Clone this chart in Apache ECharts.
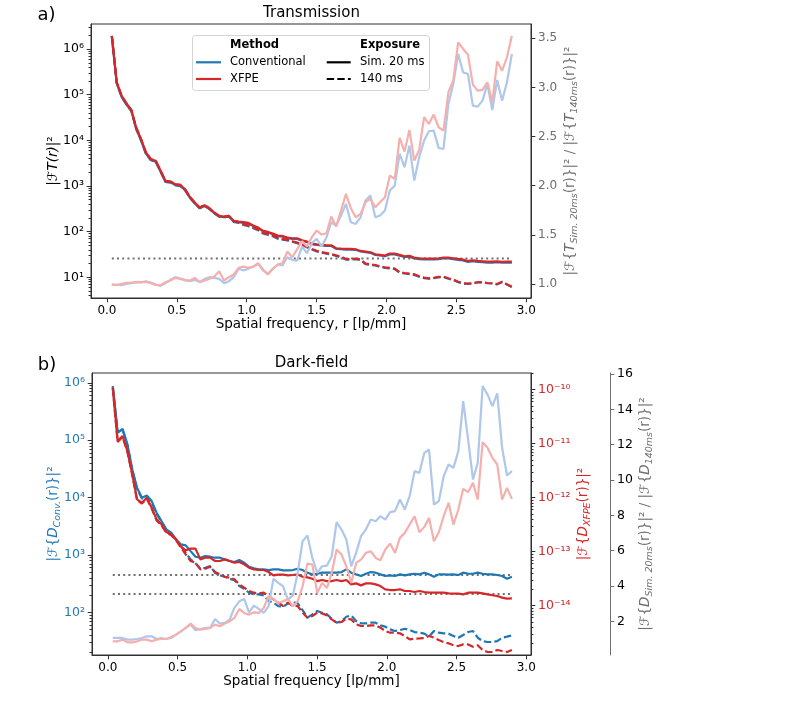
<!DOCTYPE html>
<html><head><meta charset="utf-8">
<script src="https://cdn.jsdelivr.net/npm/echarts@6/dist/echarts.min.js"></script>
<style>html,body{margin:0;padding:0;background:#fff}#c{width:803px;height:726px}</style>
</head><body><div id="c"></div>
<script>
// ---------------- data ----------------
const freq = [0.035,0.070,0.105,0.140,0.175,0.209,0.244,0.279,0.314,0.349,
 0.384,0.419,0.454,0.489,0.524,0.558,0.593,0.628,0.663,0.698,
 0.733,0.768,0.803,0.838,0.873,0.907,0.942,0.977,1.012,1.047,
 1.082,1.117,1.152,1.187,1.222,1.256,1.291,1.326,1.361,1.396,
 1.431,1.466,1.501,1.536,1.571,1.605,1.640,1.675,1.710,1.745,
 1.780,1.815,1.850,1.885,1.920,1.954,1.989,2.024,2.059,2.094,
 2.129,2.164,2.199,2.234,2.269,2.303,2.338,2.373,2.408,2.443,
 2.478,2.513,2.548,2.583,2.618,2.652,2.687,2.722,2.757,2.792,
 2.827,2.862,2.897];

// a) Transmission
const topConvSim = [1.90e6,1.80e5,9.0e4,6.1e4,4.4e4,1.8e4,1.0e4,5150,3700,3400,
 2050,1230,1200,1050,1010,820,555,420,325,365,
 315,253,214,207,214,166,161,156,150,132,
 119,101,95.5,88,79.5,78,72,69.5,69.5,63,
 59,53,51.5,50,49,48.5,42,41.2,40.5,40.5,
 40,36.8,35.5,34.3,31,30,29,31.8,31.8,29.8,
 27.8,28.3,26,25,24.5,24.5,24.6,25,25.8,25.8,
 25,24.1,23.3,21.8,22.5,21.8,21.4,21,21,21.4,
 20.8,21,21];
const topXfpeSim = [1.96e6,1.86e5,9.46e4,6.43e4,4.59e4,1.91e4,1.06e4,5420,3870,3560,
 2150,1290,1250,1090,1060,851,578,434,337,379,
 326,262,221,214,221,172,166,161,155,136,
 123,104,98.6,90.6,81.8,80.5,74.1,71.6,71.6,64.7,
 60.5,54.7,52.8,51.2,50.2,50.2,43.3,42.5,41.8,41.8,
 41.1,37.8,36.6,35.3,31.9,30.9,29.9,33.0,33.0,30.9,
 28.8,29.4,27.0,26.1,25.6,25.6,25.6,26.1,27.0,27.0,
 26.1,25.2,24.4,22.8,23.6,22.8,22.4,22.0,22.0,22.4,
 21.7,22.0,22.0];
const topConv140 = [1.90e6,1.80e5,9.0e4,6.1e4,4.4e4,1.8e4,1.0e4,5150,3700,3400,
 2050,1230,1200,1050,1010,820,555,420,325,365,
 315,253,214,207,213,164,156,140,131,119,
 107,91,85,79,70,67,64,60,56,51,
 45.5,40.5,37,34.5,33,31.5,29.3,27.4,24.4,24.3,
 24.9,23.8,19.5,18.8,18.1,16.9,16.1,15.6,15.1,12.6,
 12.1,11.7,11.3,10.3,9.6,9.3,9.5,10.0,10.1,9.3,
 8.7,7.8,7.3,7.2,7.3,7.7,7.7,7.4,7.3,7.0,
 7.8,6.9,6.1];
const topXfpe140 = [1.96e6,1.86e5,9.46e4,6.43e4,4.59e4,1.91e4,1.06e4,5420,3870,3560,
 2150,1290,1250,1090,1060,851,578,434,337,379,
 326,262,221,214,221,170,162,145,136,123,
 111,93.8,87.7,81.8,72.4,69.2,66.1,61.7,57.5,52.5,
 46.8,41.7,38.0,35.5,33.9,32.4,30.2,28.2,25.1,25.1,
 25.7,24.5,20.0,19.3,18.6,17.4,16.6,16.0,15.5,12.9,
 12.4,12.0,11.6,10.5,9.8,9.5,9.7,10.2,10.3,9.5,
 8.9,8.0,7.4,7.3,7.4,7.8,7.8,7.5,7.4,7.1,
 8.0,7.0,6.2];
const topRatioConv = [0.994,0.994,0.987,1.001,1.008,1.015,1.015,1.028,1.015,0.994,
 0.981,1.008,1.042,1.069,1.055,1.035,1.028,1.042,1.021,1.049,
 1.069,1.062,1.052,1.008,1.028,1.069,1.154,1.137,1.154,1.177,
 1.204,1.137,1.103,1.154,1.198,1.188,1.272,1.245,1.238,1.381,
 1.313,1.415,1.459,1.381,1.476,1.628,1.594,1.696,1.815,1.628,
 1.611,1.679,1.849,1.900,1.679,1.696,1.747,1.951,2.001,2.324,
 2.188,2.408,2.052,2.290,2.459,2.554,2.561,2.385,2.374,2.832,
 3.036,3.341,3.154,3.137,2.815,2.805,2.866,3.036,2.771,3.076,
 2.866,3.053,3.341];
const topRatioXfpe = [0.994,0.987,1.001,1.011,1.015,1.021,1.018,1.021,1.008,0.991,
 0.987,1.018,1.035,1.062,1.052,1.042,1.035,1.062,1.018,1.035,
 1.052,1.076,1.130,1.035,1.069,1.096,1.164,1.177,1.164,1.177,
 1.211,1.147,1.096,1.154,1.198,1.211,1.330,1.272,1.354,1.435,
 1.381,1.476,1.544,1.503,1.516,1.686,1.584,1.747,1.917,1.771,
 1.679,1.713,1.832,1.866,1.781,1.832,1.883,2.103,2.069,2.486,
 2.347,2.568,2.256,2.364,2.697,2.629,2.724,2.595,2.561,2.951,
 3.070,3.459,3.392,3.334,3.029,2.968,2.975,3.053,2.849,3.266,
 3.171,3.307,3.527];
const topNoise = 25.7;

// b) Dark-field
const botConvSim = [8.79e5,1.35e5,1.58e5,8.45e4,3.10e4,1.49e4,9960,1.09e4,8710,5460,
 3910,2800,2450,1870,1530,1470,1170,934,897,959,
 934,897,897,839,785,755,817,735,625,585,
 562,562,547,562,562,540,540,547,577,547,
 492,460,472,492,492,492,492,505,562,492,
 460,431,472,505,492,460,431,442,431,460,
 442,460,472,460,492,460,419,460,460,454,
 460,448,492,472,472,492,472,460,460,448,
 431,386,419];
const botXfpeSim = [1.09e-10,1.12e-11,1.39e-11,7.31e-12,2.70e-12,9.31e-13,8.09e-13,1.00e-12,6.53e-13,3.97e-13,
 3.21e-13,2.31e-13,2.09e-13,1.69e-13,1.24e-13,1.06e-13,1.14e-13,1.14e-13,7.21e-14,7.74e-14,
 7.74e-14,6.72e-14,6.72e-14,7.21e-14,6.72e-14,6.25e-14,6.44e-14,5.83e-14,5.06e-14,4.71e-14,
 4.58e-14,4.58e-14,4.21e-14,3.65e-14,3.75e-14,3.75e-14,3.65e-14,3.70e-14,3.80e-14,3.44e-14,
 3.35e-14,3.16e-14,2.86e-14,2.99e-14,2.86e-14,2.86e-14,2.99e-14,2.86e-14,2.99e-14,2.48e-14,
 2.59e-14,2.38e-14,2.59e-14,2.59e-14,2.48e-14,2.31e-14,2.01e-14,1.95e-14,1.95e-14,2.01e-14,
 1.87e-14,1.87e-14,1.79e-14,1.87e-14,1.79e-14,1.74e-14,1.74e-14,1.74e-14,1.74e-14,1.69e-14,
 1.67e-14,1.67e-14,1.62e-14,1.74e-14,1.74e-14,1.74e-14,1.69e-14,1.62e-14,1.56e-14,1.51e-14,
 1.41e-14,1.35e-14,1.37e-14];
const botConv140 = [8.6e5,1.38e5,1.52e5,8.2e4,2.95e4,1.42e4,9600,1.05e4,8300,5200,
 3750,2700,2380,1820,1430,1100,839,715,577,601,
 643,492,442,419,386,366,288,259,220,206,
 206,198,158,148,129,126,142,152,144,110,
 80.9,92.5,106,98.9,92.5,77.6,66.2,70.8,84.1,88.7,
 70.8,64.4,64.4,66.2,66.2,59.4,56.4,50.6,47.4,49.3,
 52.0,49.3,45.5,44.3,42.6,37.8,47.4,44.3,43.2,42.6,
 38.8,36.2,40.4,45.5,47.4,36.2,31.7,30.5,30.5,31.7,
 36.2,37.8,39.8];
const botXfpe140 = [1.05e-10,1.08e-11,1.33e-11,7.0e-12,2.6e-12,9.0e-13,7.8e-13,9.6e-13,6.3e-13,3.8e-13,
 3.1e-13,2.25e-13,2.02e-13,1.63e-13,1.19e-13,8.93e-14,6.72e-14,6.25e-14,4.71e-14,4.84e-14,
 5.27e-14,4.21e-14,3.80e-14,3.44e-14,3.30e-14,3.08e-14,2.48e-14,2.16e-14,1.87e-14,1.74e-14,
 1.69e-14,1.74e-14,1.51e-14,1.31e-14,1.14e-14,9.87e-15,1.14e-14,9.87e-15,9.87e-15,7.43e-15,
 6.00e-15,6.44e-15,7.43e-15,7.21e-15,6.62e-15,5.58e-15,4.84e-15,4.99e-15,5.74e-15,5.58e-15,
 4.51e-15,4.21e-15,4.21e-15,4.33e-15,4.33e-15,3.92e-15,3.40e-15,3.16e-15,3.16e-15,3.08e-15,
 2.74e-15,2.38e-15,2.45e-15,2.48e-15,2.52e-15,2.74e-15,2.56e-15,2.31e-15,2.12e-15,2.01e-15,
 1.85e-15,1.79e-15,1.92e-15,1.92e-15,1.74e-15,1.85e-15,1.51e-15,1.39e-15,1.39e-15,1.51e-15,
 1.45e-15,1.39e-15,1.51e-15];
const botRatioConv = [1.060,1.060,1.060,0.965,0.965,1.003,1.060,1.154,1.154,1.003,
 1.060,1.003,1.060,1.249,1.438,1.627,1.815,1.495,1.570,1.627,
 1.627,2.136,1.872,1.910,2.099,2.759,3.137,3.269,2.514,2.892,
 2.703,2.476,2.854,4.403,4.176,3.987,3.232,3.458,4.742,6.537,
 6.858,5.593,4.742,5.120,5.158,5.687,7.613,7.198,6.631,5.120,
 5.876,6.820,7.198,7.764,7.670,7.953,7.764,8.180,8.237,8.897,
 8.331,9.086,10.503,10.408,11.541,11.730,8.614,8.803,10.219,10.880,
 10.692,11.636,14.469,12.297,10.031,10.975,15.319,14.846,14.185,14.903,
 11.825,10.257,10.503];
const botRatioXfpe = [0.871,0.871,0.965,0.814,0.814,0.871,0.965,0.965,0.871,0.965,
 1.003,1.003,1.116,1.249,1.438,1.627,1.872,1.627,1.532,1.570,
 1.627,1.815,1.721,1.872,2.004,2.193,2.703,2.476,2.382,2.514,
 2.476,2.759,3.421,3.269,3.043,3.137,3.269,2.854,3.137,3.987,
 5.271,5.215,3.609,4.176,3.893,4.742,6.065,5.781,5.120,4.176,
 5.309,5.498,5.876,5.970,5.593,5.460,6.065,6.404,5.876,6.726,
 7.009,7.481,7.953,7.047,7.349,7.859,6.537,7.047,7.953,8.709,
 7.481,8.331,9.502,9.313,9.842,8.897,12.146,11.825,11.258,10.880,
 8.897,9.558,8.935];
const botNoiseConv = 449;
const botNoiseXfpe = 1.65e-14;

// tick values
const xTicks = [0, 0.5, 1.0, 1.5, 2.0, 2.5, 3.0];
const topLogTicks = [1e1, 1e2, 1e3, 1e4, 1e5, 1e6];
const topRatioTicks = [1.0, 1.5, 2.0, 2.5, 3.0, 3.5];
const botConvTicks = [1e2, 1e3, 1e4, 1e5, 1e6];
const botXfpeTicks = [1e-14, 1e-13, 1e-12, 1e-11, 1e-10];
const botRatioTicks = [2, 4, 6, 8, 10, 12, 14, 16];

// ---------------- helpers ----------------
const FONT = 'DejaVu Sans';
const AX = '#303030';
const GRAY = '#6e6e6e';
const C_BLUE = '#1f77b4', C_RED = '#d62728', C_LBLUE = '#aec7ea', C_LRED = '#f5b0ad';
const DASH = [7.4, 3.2], DOT = [2, 3.2];
const L10 = v => Math.log10(v);
const SUP = {'0':'⁰','1':'¹','2':'²','3':'³','4':'⁴','5':'⁵','6':'⁶','7':'⁷','8':'⁸','9':'⁹','-':'⁻'};
const pow10 = v => '10' + String(Math.round(v)).split('').map(c => SUP[c]).join('');
function minor(lo, hi) {
  const out = [];
  for (let n = Math.floor(lo); n <= Math.ceil(hi); n++)
    for (let m = 2; m <= 9; m++) { const v = n + Math.log10(m); if (v >= lo && v <= hi) out.push(v); }
  return out;
}
function rich(color) {
  return {
    i: {fontFamily: FONT, fontSize: 13.5, fontStyle: 'italic', color, lineHeight: 20},
    s: {fontFamily: FONT, fontSize: 9.5, fontStyle: 'italic', color, lineHeight: 11, verticalAlign: 'bottom'}
  };
}
function nameStyle(color) {
  return {fontFamily: FONT, fontSize: 13.5, color, lineHeight: 20, rich: rich(color)};
}
function xAx(gi, name) {
  return {type: 'value', gridIndex: gi, min: -0.114, max: 3.034,
    name, nameLocation: 'middle', nameGap: 19, nameMoveOverlap: false,
    nameTextStyle: {fontFamily: FONT, fontSize: 13.5, color: '#000'},
    axisLine: {show: true, onZero: false, lineStyle: {color: AX, width: 1}},
    axisTick: {show: true, length: 4.3, customValues: xTicks, lineStyle: {color: AX}},
    axisLabel: {customValues: xTicks, formatter: v => v.toFixed(1), fontFamily: FONT, fontSize: 12, color: '#000', margin: 7},
    splitLine: {show: false}};
}
function yAx(o) {
  const base = {type: 'value', splitLine: {show: false}, nameLocation: 'middle', nameRotate: 90, nameMoveOverlap: false,
    axisLine: {show: true, onZero: false, lineStyle: {color: o.lineColor || AX, width: 1}}};
  delete o.lineColor;
  return Object.assign(base, o);
}
function majorTick(vals, color) { return {show: true, length: 4.3, customValues: vals, lineStyle: {color: color || AX}}; }
function minorAx(gi, pos, min, max) {
  return {type: 'value', gridIndex: gi, position: pos, min, max,
    axisLine: {show: false, onZero: false}, axisLabel: {show: false}, splitLine: {show: false},
    axisTick: {show: true, length: 2.5, customValues: minor(min, max), lineStyle: {color: AX}}};
}
const logData = vals => freq.map((f, i) => [f, L10(vals[i])]);
const linData = vals => freq.map((f, i) => [f, vals[i]]);
const flatLog = v => [[freq[0], L10(v)], [freq[freq.length - 1], L10(v)]];
function ser(name, xi, yi, data, color, type, z) {
  return {name, type: 'line', xAxisIndex: xi, yAxisIndex: yi, data, symbol: 'none', showSymbol: false,
    animation: false, silent: true, z, clip: true,
    lineStyle: {color, width: type === DOT ? 2 : 2.2, type: type || 'solid', cap: 'butt'}, itemStyle: {color}};
}

// axis extents (log10 space for log axes)
const T_LOG = [0.546, 6.55], T_RAT = [0.857, 3.646];
const B_CONV = [1.258, 6.171], B_XFPE = [-14.913, -9.691], B_RAT = [0.096, 16.06];

const option = {
  backgroundColor: '#fff',
  animation: false,
  textStyle: {fontFamily: FONT},
  grid: [
    {left: 91, top: 24, width: 440, height: 274, show: true, borderColor: AX, borderWidth: 1, backgroundColor: 'transparent'},
    {left: 92, top: 373, width: 439, height: 282, show: true, borderColor: AX, borderWidth: 1, backgroundColor: 'transparent'}
  ],
  xAxis: [xAx(0, 'Spatial frequency, r [lp/mm]'), xAx(1, 'Spatial frequency [lp/mm]')],
  yAxis: [
    yAx({gridIndex: 0, position: 'left', min: T_LOG[0], max: T_LOG[1],
      name: '|ℱ{i|T(r)}|²', nameGap: 28, nameTextStyle: nameStyle('#000'),
      axisTick: majorTick(topLogTicks.map(L10)),
      axisLabel: {customValues: topLogTicks.map(L10), formatter: pow10, fontFamily: FONT, fontSize: 12.5, color: '#000', margin: 7}}),
    minorAx(0, 'left', T_LOG[0], T_LOG[1]),
    yAx({gridIndex: 0, position: 'right', min: T_RAT[0], max: T_RAT[1],
      name: '|ℱ{{i|T}{s|Sim. 20ms}(r)}|² / |ℱ{{i|T}{s|140ms}(r)}|²', nameGap: 29, nameTextStyle: nameStyle(GRAY),
      axisTick: majorTick(topRatioTicks, AX),
      axisLabel: {customValues: topRatioTicks, formatter: v => v.toFixed(1), fontFamily: FONT, fontSize: 12, color: GRAY, margin: 7}}),
    yAx({gridIndex: 1, position: 'left', min: B_CONV[0], max: B_CONV[1],
      name: '|ℱ{{i|D}{s|Conv.}(r)}|²', nameGap: 29, nameTextStyle: nameStyle(C_BLUE),
      axisTick: majorTick(botConvTicks.map(L10)),
      axisLabel: {customValues: botConvTicks.map(L10), formatter: pow10, fontFamily: FONT, fontSize: 12.5, color: C_BLUE, margin: 7}}),
    minorAx(1, 'left', B_CONV[0], B_CONV[1]),
    yAx({gridIndex: 1, position: 'right', min: B_XFPE[0], max: B_XFPE[1],
      name: '|ℱ{{i|D}{s|XFPE}(r)}|²', nameGap: 42, nameTextStyle: nameStyle(C_RED),
      axisTick: majorTick(botXfpeTicks.map(L10)),
      axisLabel: {customValues: botXfpeTicks.map(L10), formatter: pow10, fontFamily: FONT, fontSize: 12.5, color: C_RED, margin: 7}}),
    minorAx(1, 'right', B_XFPE[0], B_XFPE[1]),
    yAx({gridIndex: 1, position: 'right', offset: 79, min: B_RAT[0], max: B_RAT[1], lineColor: GRAY,
      name: '|ℱ{{i|D}{s|Sim. 20ms}(r)}|² / |ℱ{{i|D}{s|140ms}(r)}|²', nameGap: 25, nameTextStyle: nameStyle(GRAY),
      axisTick: majorTick(botRatioTicks, GRAY),
      axisLabel: {customValues: botRatioTicks, formatter: v => String(v), fontFamily: FONT, fontSize: 12.5, color: '#000', margin: 7}})
  ],
  series: [
    ser('noise a', 0, 0, flatLog(topNoise), '#707070', DOT, 1),
    ser('Conventional Sim. 20 ms', 0, 0, logData(topConvSim), C_BLUE, 'solid', 2),
    ser('Conventional 140 ms', 0, 0, logData(topConv140), C_BLUE, DASH, 2),
    ser('XFPE Sim. 20 ms', 0, 0, logData(topXfpeSim), C_RED, 'solid', 3),
    ser('XFPE 140 ms', 0, 0, logData(topXfpe140), C_RED, DASH, 3),
    ser('Conventional ratio', 0, 2, linData(topRatioConv), C_LBLUE, 'solid', 4),
    ser('XFPE ratio', 0, 2, linData(topRatioXfpe), C_LRED, 'solid', 4),

    ser('noise conv', 1, 3, flatLog(botNoiseConv), '#707070', DOT, 1),
    ser('noise xfpe', 1, 5, flatLog(botNoiseXfpe), '#707070', DOT, 1),
    ser('Conventional Sim. 20 ms b', 1, 3, logData(botConvSim), C_BLUE, 'solid', 2),
    ser('Conventional 140 ms b', 1, 3, logData(botConv140), C_BLUE, DASH, 2),
    ser('XFPE Sim. 20 ms b', 1, 5, logData(botXfpeSim), C_RED, 'solid', 3),
    ser('XFPE 140 ms b', 1, 5, logData(botXfpe140), C_RED, DASH, 3),
    ser('Conventional ratio b', 1, 7, linData(botRatioConv), C_LBLUE, 'solid', 4),
    ser('XFPE ratio b', 1, 7, linData(botRatioXfpe), C_LRED, 'solid', 4)
  ],
  graphic: [
    {type: 'text', x: 46.5, y: 15, z: 10, style: {text: 'a)', fontFamily: FONT, fontSize: 18, fill: '#000', align: 'center', verticalAlign: 'middle', textAlign: 'center', textVerticalAlign: 'middle'}},
    {type: 'text', x: 311.5, y: 12.7, z: 10, style: {text: 'Transmission', fontFamily: FONT, fontSize: 15, fill: '#000', align: 'center', verticalAlign: 'middle', textAlign: 'center', textVerticalAlign: 'middle'}},
    {type: 'text', x: 47, y: 365, z: 10, style: {text: 'b)', fontFamily: FONT, fontSize: 18, fill: '#000', align: 'center', verticalAlign: 'middle', textAlign: 'center', textVerticalAlign: 'middle'}},
    {type: 'text', x: 311.5, y: 362.7, z: 10, style: {text: 'Dark-field', fontFamily: FONT, fontSize: 15, fill: '#000', align: 'center', verticalAlign: 'middle', textAlign: 'center', textVerticalAlign: 'middle'}},
    {type: 'rect', z: 20, shape: {x: 192.5, y: 35.5, width: 237, height: 55, r: 3}, style: {fill: 'rgba(255,255,255,0.85)', stroke: '#d4d4d4', lineWidth: 1}},
    {type: 'text', z: 21, x: 254.5, y: 45, style: {text: 'Method', fontFamily: FONT, fontSize: 11.5, fontWeight: 'bold', fill: '#000', align: 'center', verticalAlign: 'middle', textAlign: 'center', textVerticalAlign: 'middle'}},
    {type: 'line', z: 21, shape: {x1: 196, y1: 62.3, x2: 221, y2: 62.3}, style: {stroke: C_BLUE, lineWidth: 2.2}},
    {type: 'text', z: 21, x: 230, y: 62.3, style: {text: 'Conventional', fontFamily: FONT, fontSize: 11.5, fill: '#000', align: 'left', verticalAlign: 'middle', textAlign: 'left', textVerticalAlign: 'middle'}},
    {type: 'line', z: 21, shape: {x1: 196, y1: 79, x2: 221, y2: 79}, style: {stroke: C_RED, lineWidth: 2.2}},
    {type: 'text', z: 21, x: 230, y: 79, style: {text: 'XFPE', fontFamily: FONT, fontSize: 11.5, fill: '#000', align: 'left', verticalAlign: 'middle', textAlign: 'left', textVerticalAlign: 'middle'}},
    {type: 'text', z: 21, x: 390, y: 45, style: {text: 'Exposure', fontFamily: FONT, fontSize: 11.5, fontWeight: 'bold', fill: '#000', align: 'center', verticalAlign: 'middle', textAlign: 'center', textVerticalAlign: 'middle'}},
    {type: 'line', z: 21, shape: {x1: 326.7, y1: 62.3, x2: 350.7, y2: 62.3}, style: {stroke: '#000', lineWidth: 2.2}},
    {type: 'text', z: 21, x: 360, y: 62.3, style: {text: 'Sim. 20 ms', fontFamily: FONT, fontSize: 11.5, fill: '#000', align: 'left', verticalAlign: 'middle', textAlign: 'left', textVerticalAlign: 'middle'}},
    {type: 'line', z: 21, shape: {x1: 326.7, y1: 79, x2: 350.7, y2: 79}, style: {stroke: '#000', lineWidth: 2.2, lineDash: DASH}},
    {type: 'text', z: 21, x: 360, y: 79, style: {text: '140 ms', fontFamily: FONT, fontSize: 11.5, fill: '#000', align: 'left', verticalAlign: 'middle', textAlign: 'left', textVerticalAlign: 'middle'}}
  ]
};
const chart = echarts.init(document.getElementById('c'), null, {renderer: 'canvas', width: 803, height: 726});
chart.setOption(option);
</script>
</body></html>
